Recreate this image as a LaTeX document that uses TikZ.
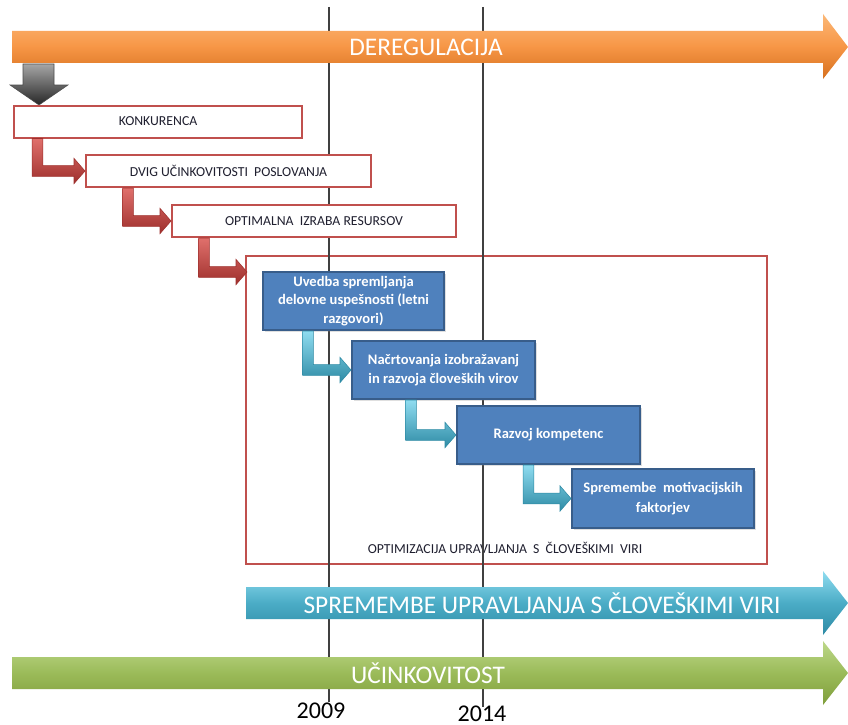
\documentclass[tikz,border=0pt]{standalone}
\usepackage{fontspec}
\setmainfont{Carlito}
\usetikzlibrary{calc,shadows}
\definecolor{redb}{HTML}{C0504D}
\definecolor{redd}{HTML}{9E2F2C}
\definecolor{redl}{HTML}{E0706C}
\definecolor{blueb}{HTML}{4F81BD}
\definecolor{bluee}{HTML}{385D8A}
\definecolor{cyanb}{HTML}{4BACC6}
\definecolor{cyanl}{HTML}{8FDCF0}
\definecolor{cyand}{HTML}{2E8BA5}
\definecolor{orab}{HTML}{F79646}
\definecolor{oral}{HTML}{FBB877}
\definecolor{orad}{HTML}{D6701E}
\definecolor{greb}{HTML}{9BBB59}
\definecolor{grel}{HTML}{BDD88A}
\definecolor{gred}{HTML}{7F9E3C}
\definecolor{txt}{HTML}{1F1F2F}
\newcommand{\bentarr}[4]{%
  \path[#4] let \p1=(#1.south), \p2=(#2), \p3=(#3) in
    (\x3-4.1pt,\y1) -- (\x3-4.1pt,\y2-4.1pt) -- (\x2-8.25pt,\y2-4.1pt) --
    (\x2-8.25pt,\y2-9.5pt) -- (\x2,\y2) -- (\x2-8.25pt,\y2+9.5pt) --
    (\x2-8.25pt,\y2+4.1pt) -- (\x3+4.1pt,\y2+4.1pt) -- (\x3+4.1pt,\y1) -- cycle;}
\begin{document}
\begin{tikzpicture}[x=0.75pt,y=-0.75pt,
  redbox/.style={draw=redb, line width=1.5pt, fill=white, inner sep=0pt,
    minimum height=24pt, text=txt, font=\fontsize{10.3}{12}\selectfont},
  bluebox/.style={draw=bluee, line width=1.5pt, fill=blueb, text=white, inner sep=0pt,
    align=center, font=\bfseries\fontsize{10.9}{13.8}\selectfont,
    drop shadow={opacity=0.25, shadow xshift=1.5pt, shadow yshift=-1.5pt}},
  bigtext/.style={text=white, font=\fontsize{19}{22}\selectfont, inner sep=0pt},
  yearlabel/.style={text=black, font=\fontsize{18}{20}\selectfont, inner sep=0pt},
  vline/.style={draw=black!75, line width=0.8pt},
  redarrow/.style={top color=redl, bottom color=redd, draw=redd, line width=0.4pt},
  cyanarrow/.style={top color=cyanl, bottom color=cyand, draw=cyand, line width=0.4pt}]
\useasboundingbox (0,0) rectangle (848,724);
\fill[white] (0,0) rectangle (848,724);

% big frame and its caption
\node[draw=redb, line width=1.6pt, minimum width=390.75pt, minimum height=231pt, inner sep=0pt]
  (big) at (506.5,410) {};
\node[text=txt, font=\fontsize{10.3}{12}\selectfont, inner sep=0pt] (cap) at (505,548)
  {OPTIMIZACIJA UPRAVLJANJA\ \ S\ \ ČLOVEŠKIMI\ \ VIRI};

% year lines
\coordinate (a1) at (329,7);
\coordinate (a2) at (329,702);
\coordinate (b1) at (483,7);
\coordinate (b2) at (483,707);
\draw[vline] (a1) -- (a2);
\draw[vline] (b1) -- (b2);
\node[yearlabel] (y2009) at (321,711) {2009};
\node[yearlabel] (y2014) at (482,713.5) {2014};

% big arrows
\path[top color=oral, bottom color=orad, middle color=orab]
  (12,31) -- (823,31) -- (823,14) -- (848,47) -- (823,79) -- (823,63) -- (12,63) -- cycle;
\node[bigtext] (dereg) at (426,47) {DEREGULACIJA};
\path[top color=cyanl, bottom color=cyand, middle color=cyanb]
  (246,587) -- (823,587) -- (823,571) -- (848,603) -- (823,635) -- (823,619) -- (246,619) -- cycle;
\node[bigtext] (sprem) at (542,603) {SPREMEMBE UPRAVLJANJA S ČLOVEŠKIMI VIRI};
\path[top color=grel, bottom color=gred, middle color=greb]
  (12,657) -- (823,657) -- (823,641) -- (848,673) -- (823,705) -- (823,689) -- (12,689) -- cycle;
\node[bigtext] (ucink) at (428,673) {UČINKOVITOST};

% gray down arrow
\path[top color=black!35, bottom color=black!85, draw=black!70, line width=0.4pt]
  (23,64) -- (54,64) -- (54,85) -- (68,85) -- (39,105) -- (10,85) -- (23,85) -- cycle;

% white boxes
\node[redbox, minimum width=216pt] (k1) at (158,121.5) {KONKURENCA};
\node[redbox, minimum width=213.75pt] (k2) at (228.5,171) {DVIG UČINKOVITOSTI\ \ POSLOVANJA};
\node[redbox, minimum width=213pt] (k3) at (314,221) {OPTIMALNA\ \ IZRABA RESURSOV};

% blue boxes
\node[bluebox, minimum width=135.75pt, minimum height=43.5pt] (u1) at (353.5,301)
  {Uvedba spremljanja\\delovne uspešnosti (letni\\razgovori)};
\node[bluebox, minimum width=137.25pt, minimum height=43.5pt] (u2) at (443.5,370)
  {Načrtovanja izobražavanj\\in razvoja človeških virov};
\node[bluebox, minimum width=137.25pt, minimum height=43.5pt] (u3) at (548.5,435)
  {Razvoj kompetenc};
\node[bluebox, minimum width=136.5pt, minimum height=44.25pt,
  font=\bfseries\fontsize{10.9}{15}\selectfont] (u4) at (663,498.5)
  {Spremembe\ \ motivacijskih\\faktorjev};

% bent arrows
\coordinate (r1) at (37.5,0);
\coordinate (r2) at (128,0);
\coordinate (r3) at (204,0);
\coordinate (t3) at (247,272);
\coordinate (c1) at (308,0);
\coordinate (c2) at (411,0);
\coordinate (c3) at (528.5,0);
\bentarr{k1}{k2.west}{r1}{redarrow}
\bentarr{k2}{k3.west}{r2}{redarrow}
\bentarr{k3}{t3}{r3}{redarrow}
\bentarr{u1}{u2.west}{c1}{cyanarrow}
\bentarr{u2}{u3.west}{c2}{cyanarrow}
\bentarr{u3}{u4.west}{c3}{cyanarrow}
\end{tikzpicture}
\end{document}
